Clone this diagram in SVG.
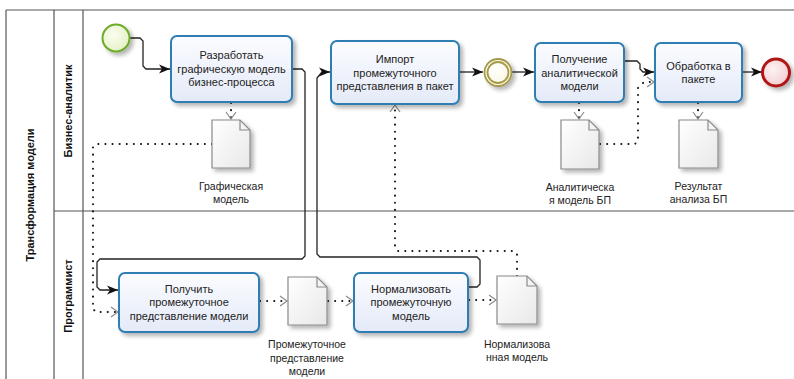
<svg xmlns="http://www.w3.org/2000/svg" width="794" height="379" viewBox="0 0 794 379">
<defs>
<style>
.pool{stroke:#555;stroke-width:1.2;fill:none}
.task{fill:url(#tg);stroke:#2e7db3;stroke-width:2;filter:url(#sh)}
.tt{font-family:"Liberation Sans",Arial,sans-serif;font-size:11px;fill:#222;text-anchor:middle}
.lbl{font-family:"Liberation Sans",Arial,sans-serif;font-size:10.5px;fill:#222;text-anchor:middle}
.lane{font-family:"Liberation Sans",Arial,sans-serif;font-size:11px;font-weight:bold;fill:#111;text-anchor:middle}
.doc{fill:url(#dg);stroke:#8a8a8a;stroke-width:1.2;filter:url(#sh)}
.fold{fill:none;stroke:#8a8a8a;stroke-width:1.2}
.flow{fill:none;stroke:#222;stroke-width:1.3;marker-end:url(#arr)}
.assoc{fill:none;stroke:#111;stroke-width:2;stroke-dasharray:0.1 7;stroke-linecap:round;marker-end:url(#oarr)}
</style>
<linearGradient id="tg" x1="0" y1="0" x2="0" y2="1"><stop offset="0" stop-color="#fbfcff"/><stop offset="1" stop-color="#e4eaf8"/></linearGradient>
<linearGradient id="dg" x1="0" y1="0" x2="1" y2="1"><stop offset="0" stop-color="#ffffff"/><stop offset="1" stop-color="#e8e8e8"/></linearGradient>
<radialGradient id="sg" cx="0.4" cy="0.4" r="0.7"><stop offset="0" stop-color="#fbfdf0"/><stop offset="1" stop-color="#e2f0c0"/></radialGradient>
<radialGradient id="ig" cx="0.4" cy="0.4" r="0.7"><stop offset="0" stop-color="#ffffff"/><stop offset="1" stop-color="#f8f4dc"/></radialGradient>
<radialGradient id="eg" cx="0.4" cy="0.4" r="0.7"><stop offset="0" stop-color="#fdf2f2"/><stop offset="1" stop-color="#f2cccc"/></radialGradient>
<filter id="sh" x="-20%" y="-20%" width="150%" height="150%">
<feGaussianBlur in="SourceAlpha" stdDeviation="2"/>
<feOffset dx="3" dy="3" result="o"/>
<feComponentTransfer><feFuncA type="linear" slope="0.3"/></feComponentTransfer>
<feMerge><feMergeNode/><feMergeNode in="SourceGraphic"/></feMerge>
</filter>
<marker id="arr" markerUnits="userSpaceOnUse" markerWidth="12" markerHeight="10" refX="11" refY="5" orient="auto">
<path d="M0,0.5 L11,5 L0,9.5 L3,5 Z" fill="#111" stroke="none"/>
</marker>
<marker id="oarr" markerUnits="userSpaceOnUse" markerWidth="12" markerHeight="12" refX="8" refY="6" orient="auto">
<path d="M1,1 L8,6 L1,11" fill="none" stroke="#8a8a8a" stroke-width="1.2" stroke-dasharray="none"/>
</marker>
</defs>

<rect x="0" y="0" width="794" height="379" fill="#ffffff"/>

<g id="pool">
<line class="pool" x1="6" y1="10" x2="794" y2="10"/>
<line class="pool" x1="6" y1="10" x2="6" y2="379"/>
<line class="pool" x1="54" y1="10" x2="54" y2="379"/>
<line class="pool" x1="83" y1="10" x2="83" y2="379"/>
<line class="pool" x1="54" y1="211" x2="794" y2="211"/>
<text class="lane" transform="translate(34,195) rotate(-90)">Трансформация модели</text>
<text class="lane" transform="translate(72,111) rotate(-90)">Бизнес-аналитик</text>
<text class="lane" transform="translate(72,296) rotate(-90)">Программист</text>
</g>

<g id="connectors">
<path class="flow" d="M130,38 H140 L143,41 V66 L146,69 H170"/>
<path class="flow" d="M292,69 H302 L305,72 V256 L302,259 H100 L97,262 V287 L100,290 H118"/>
<path class="flow" d="M468,287 H477 L480,284 V260 L477,257 H320 L317,254 V78 L322,72 H330"/>
<path class="flow" d="M459,72 H483"/>
<path class="flow" d="M512,72 H534"/>
<path class="flow" d="M624,61 H637 L640,64 V69 L643,72 H654"/>
<path class="flow" d="M742,72 H762"/>

<path class="assoc" d="M231,103 V119"/>
<path class="assoc" d="M212,144 H96 L93,147 V309 L96,312 H118"/>
<path class="assoc" d="M260,301 H287"/>
<path class="assoc" d="M328,301 H353"/>
<path class="assoc" d="M469,300 H496"/>
<path class="assoc" d="M517,276 V254 L514,251 H398 L395,248 V105"/>
<path class="assoc" d="M579,103 V119"/>
<path class="assoc" d="M600,144 H635 L638,141 V88 L644,82 H654"/>
<path class="assoc" d="M698,103 V119"/>
</g>

<g id="start">
<circle cx="116" cy="38" r="13.5" fill="url(#sg)" stroke="#6dab2a" stroke-width="2" filter="url(#sh)"/>
</g>

<g id="task1">
<rect class="task" x="171" y="36" width="121" height="66" rx="6"/>
<text class="tt" x="231.5" y="59">Разработать</text>
<text class="tt" x="231.5" y="73">графическую модель</text>
<text class="tt" x="231.5" y="86">бизнес-процесса</text>
</g>

<g id="task2">
<rect class="task" x="331" y="41" width="128" height="63" rx="6"/>
<text class="tt" x="395" y="63">Импорт</text>
<text class="tt" x="395" y="77">промежуточного</text>
<text class="tt" x="395" y="90">представления в пакет</text>
</g>

<g id="inter">
<circle cx="498" cy="72.5" r="13.5" fill="url(#ig)" stroke="#a49a48" stroke-width="1.8" filter="url(#sh)"/>
<circle cx="498" cy="72.5" r="10.5" fill="none" stroke="#a49a48" stroke-width="1.8"/>
</g>

<g id="task5">
<rect class="task" x="535" y="43" width="89" height="59" rx="6"/>
<text class="tt" x="579.5" y="63">Получение</text>
<text class="tt" x="579.5" y="77">аналитической</text>
<text class="tt" x="579.5" y="90">модели</text>
</g>

<g id="task6">
<rect class="task" x="655" y="43" width="87" height="59" rx="6"/>
<text class="tt" x="698.5" y="70">Обработка в</text>
<text class="tt" x="698.5" y="83">пакете</text>
</g>

<g id="end">
<circle cx="776" cy="72.5" r="13.5" fill="url(#eg)" stroke="#b01818" stroke-width="3" filter="url(#sh)"/>
</g>

<g id="doc1">
<path class="doc" d="M212,120 H240 L250,130 V168 H212 Z"/>
<path class="fold" d="M240,120 V130 H250"/>
<text class="lbl" x="231" y="189.5">Графическая</text>
<text class="lbl" x="231" y="203">модель</text>
</g>

<g id="doc2">
<path class="doc" d="M561,120 H589 L599,130 V169 H561 Z"/>
<path class="fold" d="M589,120 V130 H599"/>
<text class="lbl" x="580" y="191">Аналитическа</text>
<text class="lbl" x="580" y="204">я модель БП</text>
</g>

<g id="doc3">
<path class="doc" d="M679,120 H708 L718,130 V168 H679 Z"/>
<path class="fold" d="M708,120 V130 H718"/>
<text class="lbl" x="698.5" y="189.5">Результат</text>
<text class="lbl" x="698.5" y="203">анализа БП</text>
</g>

<g id="task3">
<rect class="task" x="119" y="273" width="140" height="59" rx="6"/>
<text class="tt" x="189" y="293">Получить</text>
<text class="tt" x="189" y="306">промежуточное</text>
<text class="tt" x="189" y="319.5">представление модели</text>
</g>

<g id="doc4">
<path class="doc" d="M288,277 H317 L327,287 V325 H288 Z"/>
<path class="fold" d="M317,277 V287 H327"/>
<text class="lbl" x="307" y="348">Промежуточное</text>
<text class="lbl" x="307" y="361.5">представление</text>
<text class="lbl" x="307" y="375">модели</text>
</g>

<g id="task4">
<rect class="task" x="354" y="273" width="114" height="59" rx="6"/>
<text class="tt" x="411" y="293">Нормализовать</text>
<text class="tt" x="411" y="306">промежуточную</text>
<text class="tt" x="411" y="319.5">модель</text>
</g>

<g id="doc5">
<path class="doc" d="M497,276 H527 L537,286 V324 H497 Z"/>
<path class="fold" d="M527,276 V286 H537"/>
<text class="lbl" x="517" y="348">Нормализова</text>
<text class="lbl" x="517" y="361">нная модель</text>
</g>
</svg>
